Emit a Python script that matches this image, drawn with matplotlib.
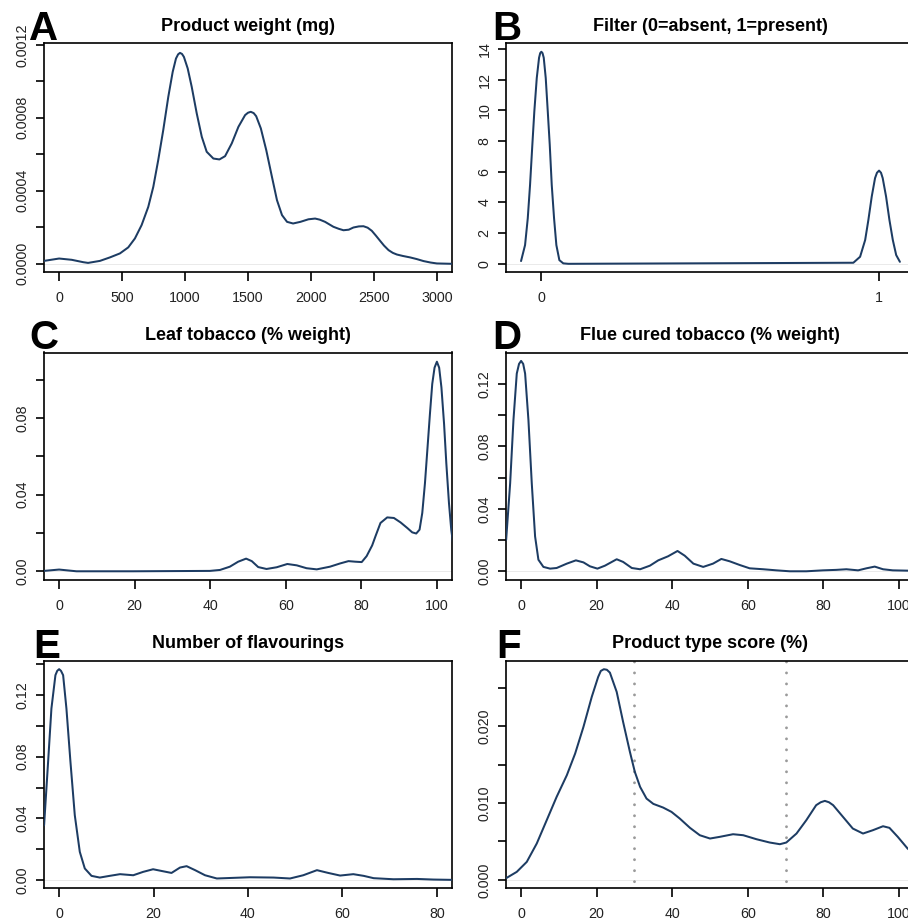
import matplotlib
matplotlib.use("Agg")
import matplotlib.pyplot as plt

plt.rcParams["font.family"] = ["Liberation Sans", "DejaVu Sans"]
plt.rcParams["lines.scale_dashes"] = False

# ---- A: product weight (mg) density ----
a_x = [-120, 0, 100, 191, 230, 324, 403, 483, 549, 602, 655, 708, 748, 787, 827, 867,
       902, 928, 945, 960, 976, 991, 1021, 1053, 1093, 1133, 1172, 1225, 1273, 1318,
       1371, 1424, 1477, 1500, 1522, 1545, 1565, 1602, 1645, 1690, 1730, 1770, 1810,
       1858, 1916, 1980, 2033, 2070, 2112, 2178, 2220, 2258, 2300, 2337, 2380, 2417,
       2450, 2483, 2515, 2549, 2580, 2616, 2650, 2682, 2730, 2788, 2840, 2894, 2950,
       3000, 3124]
a_y = [1.6e-5, 2.9e-5, 2.2e-5, 0.9e-5, 0.5e-5, 1.6e-5, 3.5e-5, 5.7e-5, 9.0e-5,
       1.39e-4, 2.12e-4, 3.12e-4, 4.22e-4, 5.68e-4, 7.33e-4, 9.15e-4, 1.052e-3,
       1.125e-3, 1.148e-3, 1.156e-3, 1.150e-3, 1.134e-3, 1.071e-3, 9.70e-4, 8.24e-4,
       6.96e-4, 6.14e-4, 5.77e-4, 5.72e-4, 5.90e-4, 6.60e-4, 7.51e-4, 8.15e-4,
       8.28e-4, 8.33e-4, 8.26e-4, 8.09e-4, 7.42e-4, 6.23e-4, 4.77e-4, 3.49e-4,
       2.67e-4, 2.30e-4, 2.21e-4, 2.30e-4, 2.44e-4, 2.48e-4, 2.42e-4, 2.30e-4,
       2.03e-4, 1.92e-4, 1.84e-4, 1.87e-4, 1.99e-4, 2.05e-4, 2.06e-4, 1.98e-4,
       1.81e-4, 1.55e-4, 1.26e-4, 1.0e-4, 7.5e-5, 6.0e-5, 5.1e-5, 4.3e-5, 3.5e-5,
       2.6e-5, 1.5e-5, 7e-6, 2e-6, 0.0]

# ---- B: filter (0/1) density ----
b_x = [-0.0602, -0.0483, -0.0403, -0.0335, -0.0267, -0.0208, -0.0136, -0.0068,
       -0.0034, 0.0, 0.0035, 0.0071, 0.013, 0.019, 0.0249, 0.0308, 0.0377, 0.0445,
       0.0534, 0.065, 0.080, 0.925, 0.945, 0.960, 0.9695, 0.9795, 0.9893, 0.995,
       1.0012, 1.007, 1.012, 1.022, 1.032, 1.042, 1.052, 1.063]
b_y = [0.18, 1.22, 2.96, 5.14, 7.75, 9.93, 12.1, 13.42, 13.72, 13.81, 13.72, 13.42,
       12.1, 9.93, 7.75, 5.14, 2.96, 1.22, 0.24, 0.03, 0.0, 0.07, 0.46, 1.55, 2.85,
       4.38, 5.58, 5.93, 6.07, 5.93, 5.58, 4.38, 2.85, 1.55, 0.57, 0.13]

# ---- C: leaf tobacco (% weight) density ----
c_x = [-4.0, 0.0, 4.6, 19.6, 39.9, 42.6, 45.2, 47.4, 49.5, 51.0, 52.7, 54.9, 57.6,
       60.4, 62.9, 65.5, 68.2, 71.7, 74.4, 76.6, 78.4, 80.1, 81.4, 82.87, 83.75,
       85.07, 86.85, 88.62, 90.37, 92.15, 93.47, 94.53, 95.41, 96.13, 96.84, 97.53,
       98.16, 98.77, 99.38, 100.0, 100.6, 101.2, 101.9, 102.5, 103.2, 103.8, 104.5]
c_y = [0.0002, 0.0009, 0.0, 0.0, 0.0002, 0.0007, 0.0024, 0.0050, 0.0066, 0.0053,
       0.0022, 0.0012, 0.0021, 0.0038, 0.0031, 0.0016, 0.0010, 0.0024, 0.0041,
       0.0053, 0.0050, 0.0048, 0.0079, 0.0135, 0.0183, 0.0252, 0.0281, 0.0278,
       0.0255, 0.0226, 0.0203, 0.0197, 0.0217, 0.0304, 0.0459, 0.0648, 0.0821,
       0.0977, 0.1062, 0.1093, 0.1062, 0.0959, 0.0769, 0.0562, 0.0355, 0.0217,
       0.0114]

# ---- D: flue cured tobacco (% weight) density ----
d_x = [-3.96, -2.9, -2.03, -1.15, -0.55, 0.0, 0.55, 1.06, 1.94, 2.82, 3.7, 4.58, 5.9,
       7.67, 9.4, 12.1, 14.5, 16.5, 18.2, 20.2, 22.2, 25.3, 27.0, 29.3, 31.5, 34.1,
       36.3, 38.9, 41.4, 43.3, 45.6, 48.2, 50.8, 53.0, 55.2, 57.9, 60.5, 64.1, 67.6,
       71.1, 75.5, 79.9, 83.4, 86.1, 89.2, 91.4, 93.6, 95.8, 98.4, 102.3, 104.5]
d_y = [0.0202, 0.0564, 0.0968, 0.1266, 0.1328, 0.1347, 0.1328, 0.1266, 0.0968,
       0.0564, 0.0223, 0.0074, 0.0028, 0.0017, 0.0021, 0.0049, 0.0070, 0.0057,
       0.0032, 0.0017, 0.0036, 0.0077, 0.0060, 0.0021, 0.0013, 0.0036, 0.0070,
       0.0096, 0.0130, 0.0100, 0.0049, 0.0028, 0.0049, 0.0079, 0.0064, 0.0040,
       0.0019, 0.0013, 0.0006, 0.0, 0.0, 0.0006, 0.0009, 0.0013, 0.0006, 0.0019,
       0.0030, 0.0013, 0.0006, 0.0004, 0.0003]

# ---- E: number of flavourings density ----
e_x = [-3.18, -2.33, -1.63, -0.78, -0.4, 0.0, 0.4, 0.85, 1.55, 2.4, 3.32, 4.38, 5.44,
       6.86, 8.62, 10.7, 12.9, 15.7, 17.8, 19.9, 22.0, 23.8, 25.6, 27.0, 28.8, 30.9,
       33.4, 36.9, 40.4, 45.4, 48.9, 51.7, 54.6, 57.0, 59.5, 62.3, 64.5, 66.6, 70.8,
       75.8, 79.3, 83.3]
e_y = [0.0355, 0.0767, 0.1113, 0.1330, 0.1358, 0.1369, 0.1358, 0.1330, 0.1113,
       0.0767, 0.0420, 0.0182, 0.0074, 0.0026, 0.0015, 0.0026, 0.0037, 0.0030,
       0.0052, 0.0069, 0.0056, 0.0045, 0.0080, 0.0089, 0.0063, 0.0030, 0.0009,
       0.0013, 0.0017, 0.0015, 0.0009, 0.0030, 0.0063, 0.0045, 0.0028, 0.0037,
       0.0026, 0.0011, 0.0004, 0.0006, 0.0002, 0.0]

# ---- F: product type score (%) density ----
f_x = [-3.96, -1.15, 1.5, 4.14, 6.78, 9.4, 12.1, 14.3, 16.5, 18.7, 20.4, 21.1, 21.9,
       22.7, 23.5, 25.3, 27.0, 28.8, 30.1, 31.5, 33.2, 35.0, 37.6, 39.8, 42.0, 44.7,
       47.3, 50.0, 52.6, 56.1, 58.8, 62.3, 65.8, 68.5, 70.2, 72.9, 75.5, 78.1, 79.3,
       80.4, 81.5, 82.6, 85.2, 87.8, 90.5, 93.1, 95.8, 97.5, 99.7, 102.3, 104.5]
f_y = [0.00022, 0.00104, 0.00234, 0.00473, 0.00777, 0.0108, 0.01362, 0.01644,
       0.01991, 0.02382, 0.02642, 0.0272, 0.02742, 0.02735, 0.02698, 0.02447,
       0.02056, 0.01666, 0.01406, 0.0121, 0.01058, 0.00989, 0.00941, 0.00885,
       0.00798, 0.00677, 0.00581, 0.00538, 0.0056, 0.00594, 0.00581, 0.00529,
       0.00486, 0.00464, 0.00486, 0.00603, 0.00777, 0.00972, 0.0101, 0.01028,
       0.0101, 0.00972, 0.0082, 0.00668, 0.00603, 0.00646, 0.00698, 0.00677,
       0.0056, 0.00408, 0.0032]
f_cutoffs = [30, 70]

titles = ["Product weight (mg)", "Filter (0=absent, 1=present)",
          "Leaf tobacco (% weight)", "Flue cured tobacco (% weight)",
          "Number of flavourings", "Product type score (%)"]
letters = ["A", "B", "C", "D", "E", "F"]

a_xticks = [0, 500, 1000, 1500, 2000, 2500, 3000]
b_xticks = [0, 1]
pct_xticks = [0, 20, 40, 60, 80, 100]
e_xticks = [0, 20, 40, 60, 80]

a_yticks = [0.0, 0.0002, 0.0004, 0.0006, 0.0008, 0.0010, 0.0012]
a_ylabels = ["0.0000", "", "0.0004", "", "0.0008", "", "0.0012"]
b_yticks = [0, 2, 4, 6, 8, 10, 12, 14]
b_ylabels = ["0", "2", "4", "6", "8", "10", "12", "14"]
c_yticks = [0.0, 0.02, 0.04, 0.06, 0.08, 0.10]
c_ylabels = ["0.00", "", "0.04", "", "0.08", ""]
d_yticks = [0.0, 0.02, 0.04, 0.06, 0.08, 0.10, 0.12]
d_ylabels = ["0.00", "", "0.04", "", "0.08", "", "0.12"]
e_yticks = [0.0, 0.02, 0.04, 0.06, 0.08, 0.10, 0.12, 0.14]
e_ylabels = ["0.00", "", "0.04", "", "0.08", "", "0.12", ""]
f_yticks = [0.0, 0.005, 0.010, 0.015, 0.020, 0.025]
f_ylabels = ["0.000", "", "0.010", "", "0.020", ""]

LINE = "#1d3c63"
W, H = 908, 923
DPI = 100
PX = 72.0 / DPI  # points per pixel

fig = plt.figure(figsize=(W / DPI, H / DPI), dpi=DPI)

# axes boxes in pixels: (left, top, right, bottom)
cols = [(44, 452), (506, 914)]
rows = [(43.3, 272.3), (352.5, 579.7), (660.7, 888.3)]


def make_axes(r, c):
    l, rgt = cols[c]
    t, b = rows[r]
    return fig.add_axes([l / W, 1 - b / H, (rgt - l) / W, (b - t) / H])


def panel(ax, x, y, xlim, ylim, xticks, yticks, ylabels, title, letter, letter_dx):
    ax.axhline(0, color="#e6e6e6", lw=0.6, zorder=1)
    ax.plot(x, y, color=LINE, lw=1.45, solid_joinstyle="round",
            solid_capstyle="round", antialiased=True, zorder=3)
    ax.set_xlim(*xlim)
    ax.set_ylim(*ylim)
    ax.set_xticks(xticks)
    ax.set_xticklabels([str(v) for v in xticks])
    ax.set_yticks(yticks)
    ax.set_yticklabels(ylabels, rotation=90, va="center")
    for s in ax.spines.values():
        s.set_linewidth(1.2)
        s.set_color("black")
    ax.tick_params(axis="both", length=8.5 * PX, width=1.2, color="black",
                   labelsize=10.3, labelcolor="#222222")
    ax.tick_params(axis="x", pad=10.5 * PX)
    ax.tick_params(axis="y", pad=6.0 * PX)
    ax.annotate(title, xy=(0.5, 1), xycoords="axes fraction",
                xytext=(0, 12.3 * PX), textcoords="offset points",
                ha="center", va="baseline", fontsize=13, fontweight="bold")
    ax.annotate(letter, xy=(0, 1), xycoords="axes fraction",
                xytext=(letter_dx * PX, 3.2 * PX), textcoords="offset points",
                ha="left", va="baseline", fontsize=29, fontweight="bold")


ax = make_axes(0, 0)
panel(ax, a_x, a_y, (-120, 3120), (-4.65e-5, 1.2085e-3), a_xticks, a_yticks, a_ylabels,
      titles[0], letters[0], -14.7)

ax = make_axes(0, 1)
panel(ax, b_x, b_y, (-0.1048, 1.1048), (-0.5524, 14.36), b_xticks, b_yticks, b_ylabels,
      titles[1], letters[1], -13.3)

ax = make_axes(1, 0)
panel(ax, c_x, c_y, (-4, 104), (-0.00439, 0.1141), pct_xticks, c_yticks, c_ylabels,
      titles[2], letters[2], -14.7)

ax = make_axes(1, 1)
panel(ax, d_x, d_y, (-4, 104), (-0.00539, 0.1401), pct_xticks, d_yticks, d_ylabels,
      titles[3], letters[3], -13.3)

ax = make_axes(2, 0)
panel(ax, e_x, e_y, (-3.2, 83.2), (-0.00548, 0.1424), e_xticks, e_yticks, e_ylabels,
      titles[4], letters[4], -10.7)

ax = make_axes(2, 1)
panel(ax, f_x, f_y, (-4, 104), (-0.0011, 0.02853), pct_xticks, f_yticks, f_ylabels,
      titles[5], letters[5], -9.3)
for v in f_cutoffs:
    ax.axvline(v, color="#9a9a9a", lw=2.1, linestyle=(3.0, (0.01, 7.9)),
               dash_capstyle="round", zorder=2)

fig.savefig("out.png", dpi=DPI)
